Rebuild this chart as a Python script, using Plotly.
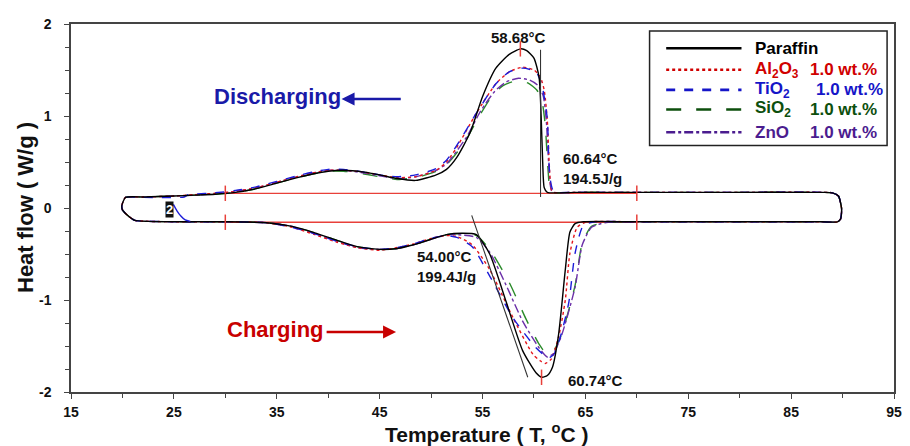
import plotly.graph_objects as go

FONT = "Liberation Sans, Arial, sans-serif"

# ---------------- axis ticks ----------------
x_tick_vals = [15, 25, 35, 45, 55, 65, 75, 85, 95]
x_tick_text = ["15", "25", "35", "45", "55", "65", "75", "85", "95"]
y_tick_vals = [-2, -1, 0, 1, 2]
y_tick_text = ["-2", "-1", "0", "1", "2"]

# ---------------- series data (upper = discharging/cooling, lower = charging/heating) -------------
series_names = ["Paraffin", "Al2O3", "TiO2", "SiO2", "ZnO"]

para_up_x = [89.9, 89.6, 89.0, 88.0, 80.0, 70.0, 64.0, 61.3, 61.0, 60.85, 60.7, 60.5, 60.0, 59.3, 58.7,
             57.6, 56.3, 55.0, 53.8, 52.5, 51.5, 50.5, 48.5, 46.7, 45.0, 43.5, 41.5, 40.0, 38.5, 37.0,
             35.0, 33.0, 31.0, 29.0, 27.0, 25.0, 22.0, 20.3, 19.95]
para_up_y = [0.00, 0.13, 0.165, 0.17, 0.17, 0.17, 0.17, 0.17, 0.22, 0.50, 1.00, 1.42, 1.63, 1.71, 1.73,
             1.67, 1.52, 1.21, 0.82, 0.55, 0.42, 0.36, 0.30, 0.32, 0.36, 0.39, 0.41, 0.40, 0.37, 0.33,
             0.27, 0.21, 0.17, 0.15, 0.14, 0.13, 0.12, 0.115, 0.03]
para_lo_x = [20.0, 20.6, 21.2, 22.5, 26.0, 30.0, 34.0, 36.5, 38.7, 40.8, 42.8, 45.0, 46.7, 48.3, 50.0,
             51.5, 53.0, 54.4, 55.7, 57.3, 58.9, 60.2, 60.8, 61.3, 61.8, 62.4, 63.05, 63.5, 64.0, 64.8,
             70.0, 80.0, 88.0, 89.5, 89.8, 89.9]
para_lo_y = [-0.02, -0.09, -0.135, -0.145, -0.15, -0.15, -0.16, -0.20, -0.27, -0.35, -0.42, -0.45, -0.44, -0.40, -0.34,
             -0.29, -0.275, -0.29, -0.50, -1.02, -1.55, -1.79, -1.84, -1.82, -1.73, -1.37, -0.67, -0.26, -0.17, -0.15,
             -0.15, -0.15, -0.15, -0.15, -0.12, -0.05]

al_up_x = [89.9, 89.6, 89.0, 88.0, 80.0, 70.0, 64.0, 62.0, 61.7, 61.5, 61.3, 61.0, 60.6, 60.0, 58.9,
           57.6, 56.3, 54.4, 52.5, 51.5, 50.5, 48.5, 46.7, 45.0, 43.5, 41.5, 40.0, 38.5, 37.0, 35.0,
           33.0, 31.0, 29.0, 27.0, 25.0, 22.0, 20.3, 19.95]
al_up_y = [0.00, 0.13, 0.165, 0.17, 0.17, 0.17, 0.17, 0.17, 0.20, 0.45, 0.95, 1.28, 1.43, 1.50, 1.53,
           1.48, 1.35, 1.03, 0.66, 0.50, 0.41, 0.34, 0.33, 0.36, 0.39, 0.41, 0.41, 0.38, 0.34, 0.28,
           0.22, 0.18, 0.16, 0.145, 0.13, 0.12, 0.115, 0.03]
al_lo_x = [20.0, 20.6, 21.2, 22.5, 26.0, 30.0, 34.0, 36.5, 38.7, 40.8, 42.8, 45.0, 46.7, 48.3, 50.0,
           51.5, 52.5, 54.0, 55.7, 58.0, 59.9, 60.6, 61.1, 61.7, 62.4, 63.05, 63.5, 64.2, 65.0, 70.0,
           80.0, 88.0, 89.5, 89.8, 89.9]
al_lo_y = [-0.02, -0.09, -0.135, -0.145, -0.15, -0.15, -0.16, -0.21, -0.29, -0.37, -0.43, -0.46, -0.43, -0.39, -0.33,
           -0.30, -0.31, -0.40, -0.67, -1.20, -1.59, -1.66, -1.69, -1.64, -1.40, -1.00, -0.49, -0.21, -0.155, -0.15,
           -0.15, -0.15, -0.15, -0.12, -0.05]

ti_up_x = [89.9, 89.6, 89.0, 88.0, 80.0, 70.0, 64.0, 62.2, 61.85, 61.6, 61.45, 61.3, 60.8, 60.2, 58.9,
           57.6, 56.3, 54.4, 52.5, 51.5, 50.5, 48.5, 46.7, 45.0, 43.5, 41.5, 40.0, 38.5, 37.0, 35.0,
           33.0, 31.0, 29.0, 27.0, 26.4, 26.0, 22.0, 20.3, 19.95]
ti_up_y = [0.00, 0.13, 0.165, 0.17, 0.17, 0.17, 0.17, 0.17, 0.19, 0.30, 0.50, 0.97, 1.32, 1.48, 1.52,
           1.48, 1.35, 1.03, 0.68, 0.52, 0.43, 0.36, 0.34, 0.36, 0.39, 0.42, 0.42, 0.39, 0.35, 0.29,
           0.23, 0.19, 0.165, 0.15, 0.145, 0.12, 0.115, 0.115, 0.03]
ti_lo_x = [20.0, 20.6, 21.2, 22.5, 26.0, 30.0, 34.0, 36.5, 38.7, 40.8, 42.8, 45.0, 46.7, 48.3, 50.0,
           51.5, 52.5, 54.0, 55.7, 58.0, 60.2, 61.0, 61.45, 62.0, 62.7, 63.4, 64.0, 64.8, 66.0, 70.0,
           80.0, 88.0, 89.5, 89.8, 89.9]
ti_lo_y = [-0.02, -0.09, -0.135, -0.145, -0.15, -0.15, -0.16, -0.21, -0.28, -0.36, -0.42, -0.45, -0.43, -0.39, -0.33,
           -0.30, -0.32, -0.42, -0.74, -1.20, -1.52, -1.60, -1.63, -1.58, -1.35, -1.02, -0.49, -0.19, -0.15, -0.15,
           -0.15, -0.15, -0.15, -0.12, -0.05]
ti_start_x = [24.95, 25.3, 25.7, 26.1, 26.6]
ti_start_y = [0.04, -0.03, -0.09, -0.13, -0.145]

si_up_x = [89.9, 89.6, 89.0, 88.0, 80.0, 70.0, 64.0, 61.9, 61.6, 61.35, 61.1, 60.8, 60.3, 59.4, 58.2,
           57.0, 56.0, 54.8, 53.5, 52.5, 51.5, 50.5, 48.5, 46.7, 45.0, 43.5, 41.5, 40.0, 38.5, 37.0,
           35.0, 33.0, 31.0, 29.0, 27.0, 25.0, 22.0, 20.3, 19.95]
si_up_y = [0.00, 0.13, 0.165, 0.17, 0.17, 0.17, 0.17, 0.165, 0.18, 0.45, 0.90, 1.15, 1.28, 1.36, 1.38,
           1.33, 1.23, 1.02, 0.76, 0.60, 0.47, 0.40, 0.33, 0.31, 0.34, 0.37, 0.40, 0.40, 0.37, 0.33,
           0.27, 0.21, 0.17, 0.15, 0.14, 0.13, 0.12, 0.115, 0.03]
si_lo_x = [20.0, 20.6, 21.2, 22.5, 26.0, 30.0, 34.0, 36.5, 38.7, 40.8, 42.8, 45.0, 46.7, 48.3, 50.0,
           51.5, 52.5, 54.4, 55.7, 57.6, 59.2, 60.5, 61.2, 61.8, 62.7, 64.0, 64.7, 65.6, 66.9, 70.0,
           80.0, 88.0, 89.5, 89.8, 89.9]
si_lo_y = [-0.02, -0.09, -0.135, -0.145, -0.15, -0.15, -0.16, -0.20, -0.27, -0.35, -0.42, -0.45, -0.44, -0.40, -0.34,
           -0.29, -0.28, -0.30, -0.45, -0.81, -1.20, -1.48, -1.58, -1.57, -1.37, -0.84, -0.38, -0.20, -0.16, -0.15,
           -0.15, -0.15, -0.15, -0.12, -0.05]

zn_up_x = [89.9, 89.6, 89.0, 88.0, 80.0, 70.0, 64.0, 62.0, 61.7, 61.45, 61.2, 60.9, 60.4, 59.6, 58.5,
           57.3, 56.2, 54.8, 53.5, 52.5, 51.5, 50.5, 48.5, 46.7, 45.0, 43.5, 41.5, 40.0, 38.5, 37.0,
           35.0, 33.0, 31.0, 29.0, 27.0, 25.0, 22.0, 20.3, 19.95]
zn_up_y = [0.00, 0.13, 0.165, 0.17, 0.17, 0.17, 0.17, 0.17, 0.19, 0.45, 0.95, 1.22, 1.33, 1.39, 1.41,
           1.37, 1.27, 1.05, 0.78, 0.62, 0.48, 0.41, 0.34, 0.32, 0.35, 0.38, 0.41, 0.41, 0.38, 0.34,
           0.28, 0.22, 0.18, 0.155, 0.14, 0.13, 0.12, 0.115, 0.03]
zn_lo_x = [20.0, 20.6, 21.2, 22.5, 26.0, 30.0, 34.0, 36.5, 38.7, 40.8, 42.8, 45.0, 46.7, 48.3, 50.0,
           51.5, 52.5, 54.4, 55.7, 57.3, 58.9, 60.5, 61.3, 61.9, 62.7, 64.0, 64.7, 65.6, 66.9, 70.0,
           80.0, 88.0, 89.5, 89.8, 89.9]
zn_lo_y = [-0.02, -0.09, -0.135, -0.145, -0.15, -0.15, -0.16, -0.20, -0.28, -0.36, -0.43, -0.45, -0.44, -0.40, -0.34,
           -0.29, -0.29, -0.32, -0.48, -0.84, -1.23, -1.52, -1.62, -1.58, -1.38, -0.86, -0.40, -0.21, -0.16, -0.15,
           -0.15, -0.15, -0.15, -0.12, -0.05]

# analysis marks (integration baselines, onset tangents, peak ticks)
base_up_x = [30.0, 70.0]
base_up_y = [0.16, 0.16]
base_lo_x = [30.0, 70.0]
base_lo_y = [-0.155, -0.155]
onset_up_x = [60.64, 60.64]
onset_up_y = [1.72, 0.12]
onset_lo_x = [53.95, 59.4]
onset_lo_y = [-0.08, -1.84]
tick_mark_x = [30.0, 70.0, 30.0, 70.0, 58.68, 60.74]
tick_mark_y = [0.16, 0.16, -0.155, -0.155, 1.73, -1.84]

# legend
legend_names = ["Paraffin", "Al<sub>2</sub>O<sub>3</sub>", "TiO<sub>2</sub>", "SiO<sub>2</sub>", "ZnO"]
legend_loading = ["", "1.0 wt.%", "1.0 wt.%", "1.0 wt.%", "1.0 wt.%"]

line_colors = ["#000000", "#e4161c", "#1c1cd8", "#2a8a2a", "#6b2fa8"]
text_colors = ["#000000", "#d00000", "#1515c8", "#0d4f0d", "#4b1c8f"]
dashes = ["solid", "dot", "dash", "longdash", "dashdot"]

ups = [(para_up_x, para_up_y), (al_up_x, al_up_y), (ti_up_x, ti_up_y), (si_up_x, si_up_y), (zn_up_x, zn_up_y)]
los = [(para_lo_x, para_lo_y), (al_lo_x, al_lo_y), (ti_lo_x, ti_lo_y), (si_lo_x, si_lo_y), (zn_lo_x, zn_lo_y)]

fig = go.Figure()

# red integration baselines
for bx, by in [(base_up_x, base_up_y), (base_lo_x, base_lo_y)]:
    fig.add_trace(go.Scatter(x=bx, y=by, mode="lines", line=dict(color="#e8403a", width=1.3),
                             showlegend=False, hoverinfo="skip"))

draw_order = [3, 4, 1, 2, 0]
for i in draw_order:
    ux, uy = ups[i]
    lx, ly = los[i]
    fig.add_trace(go.Scatter(
        x=ux + lx + ux[:1], y=uy + ly + uy[:1], mode="lines", name=series_names[i],
        line=dict(color=line_colors[i], dash=dashes[i], width=1.4, shape="spline", smoothing=0.6),
        showlegend=False))

fig.add_trace(go.Scatter(x=ti_start_x, y=ti_start_y, mode="lines",
                         line=dict(color=line_colors[2], width=1.4, shape="spline", smoothing=0.6),
                         showlegend=False, hoverinfo="skip"))

for ox, oy in [(onset_up_x, onset_up_y), (onset_lo_x, onset_lo_y)]:
    fig.add_trace(go.Scatter(x=ox, y=oy, mode="lines", line=dict(color="#333333", width=1.1),
                             showlegend=False, hoverinfo="skip"))

fig.add_trace(go.Scatter(x=tick_mark_x, y=tick_mark_y, mode="markers",
                         marker=dict(symbol="line-ns-open", size=11, color="#e8403a",
                                     line=dict(color="#e8403a", width=1.5)),
                         showlegend=False, hoverinfo="skip"))

annotations = []
def txt(x, y, text, size=15, color="#111111", xanchor="center", align="center", **kw):
    d = dict(x=x, y=y, xref="x", yref="y", text=text, showarrow=False,
             font=dict(family=FONT, size=size, color=color), xanchor=xanchor, align=align)
    d.update(kw)
    annotations.append(d)

txt(58.5, 1.85, "<b>58.68°C</b>")
txt(62.6, 0.43, "<b>60.64°C</b><br><b>194.5J/g</b>", xanchor="left", align="left")
txt(48.4, -0.64, "<b>54.00°C</b><br><b>199.4J/g</b>", xanchor="left", align="left")
txt(63.1, -1.87, "<b>60.74°C</b>", xanchor="left")
txt(35.05, 1.21, "<b>Discharging</b>", size=22, color="#1a1aa8")
txt(34.9, -1.32, "<b>Charging</b>", size=22, color="#c80000")
txt(24.55, -0.016, "<b>2</b>", size=13, color="#ffffff", bgcolor="#111111", borderpad=0)

# arrows
annotations.append(dict(x=41.3, y=1.185, ax=47.2, ay=1.185, xref="x", yref="y", axref="x", ayref="y",
                        text="", showarrow=True, arrowhead=2, arrowsize=1, arrowwidth=2.6, arrowcolor="#1a1aa8"))
annotations.append(dict(x=46.6, y=-1.348, ax=39.7, ay=-1.348, xref="x", yref="y", axref="x", ayref="y",
                        text="", showarrow=True, arrowhead=2, arrowsize=1, arrowwidth=2.6, arrowcolor="#c80000"))

# axis titles
annotations.append(dict(x=0, y=0.5, xref="paper", yref="paper", xshift=-46, xanchor="center", yanchor="middle",
                        textangle=-90, text="<b>Heat flow ( W/g )</b>", showarrow=False,
                        font=dict(family=FONT, size=22, color="#111111")))
annotations.append(dict(x=0.505, y=0, xref="paper", yref="paper", yshift=-41, xanchor="center", yanchor="middle",
                        text="<b>Temperature ( T, <sup>o</sup>C )</b>", showarrow=False,
                        font=dict(family=FONT, size=21, color="#111111")))

# legend (drawn manually)
shapes = [dict(type="rect", xref="paper", yref="paper", x0=0.703, x1=0.9916, y0=0.670, y1=0.981,
               line=dict(color="#222222", width=1.5), fillcolor="white", layer="below")]
row_y = [0.9343, 0.8758, 0.8210, 0.7678, 0.7057]
for i in range(5):
    shapes.append(dict(type="line", xref="paper", yref="paper", x0=0.7232, x1=0.8147, y0=row_y[i], y1=row_y[i],
                       line=dict(color=text_colors[i], width=2.6, dash=dashes[i])))
    annotations.append(dict(x=0.829, y=row_y[i], xref="paper", yref="paper", xanchor="left", yanchor="middle",
                            text="<b>" + legend_names[i] + "</b>", showarrow=False,
                            font=dict(family=FONT, size=17, color=text_colors[i])))
    if legend_loading[i]:
        annotations.append(dict(x=0.903 if i == 2 else 0.8953, y=row_y[i], xref="paper", yref="paper",
                                xanchor="left", yanchor="middle",
                                text="<b>" + legend_loading[i] + "</b>", showarrow=False,
                                font=dict(family=FONT, size=17, color=text_colors[i])))

axis_common = dict(showgrid=False, zeroline=False, showline=True, linecolor="#444444", linewidth=1.5,
                   mirror=True, ticks="outside", ticklen=5, tickwidth=1.2, tickcolor="#444444",
                   tickfont=dict(family=FONT, size=14, color="#111111"), tickmode="array")

# page body has an 8px default margin, so the figure is sized to fit the 910x446 window
fig.update_layout(
    width=902, height=438,
    margin=dict(l=63, r=8, t=8, b=54),
    plot_bgcolor="white", paper_bgcolor="white",
    xaxis=dict(range=[15, 95], tickvals=x_tick_vals, ticktext=["<b>%s</b>" % t for t in x_tick_text],
               minor=dict(tickmode="linear", tick0=15, dtick=5, ticks="outside", ticklen=4,
                          tickcolor="#444444", tickwidth=1.2),
               ticklabelstandoff=1, **axis_common),
    yaxis=dict(range=[-2, 2], tickvals=y_tick_vals, ticktext=["<b>%s</b>" % t for t in y_tick_text],
               minor=dict(tickmode="linear", tick0=0, dtick=0.25, ticks="outside", ticklen=4,
                          tickcolor="#444444", tickwidth=1.2),
               ticklabelstandoff=10, **axis_common),
    annotations=annotations,
    shapes=shapes,
    showlegend=False,
)

fig.write_html("out.html")
